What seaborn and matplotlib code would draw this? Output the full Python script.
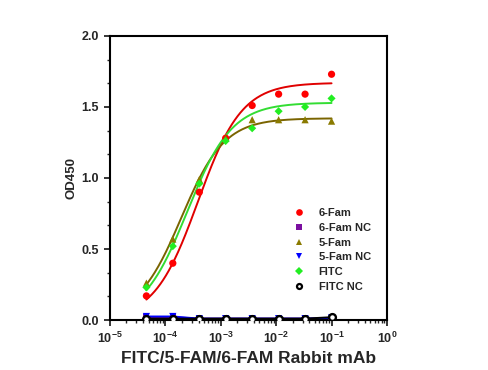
import numpy as np
import pandas as pd
import seaborn as sns
import matplotlib.pyplot as plt
from matplotlib.ticker import MultipleLocator, FixedLocator, LogLocator, NullFormatter

sns.set_style("ticks")
plt.rcParams['font.family'] = ['Liberation Sans', 'DejaVu Sans']
plt.rcParams['font.weight'] = 'bold'

# antibody concentration (3-fold dilutions)
conc = [4.57e-5, 1.37e-4, 4.12e-4, 1.23e-3, 3.7e-3, 1.11e-2, 3.33e-2, 1.0e-1]

fam6 = [0.17, 0.40, 0.90, 1.28, 1.51, 1.59, 1.59, 1.73]
fam6_nc = [0.02, 0.02, 0.01, 0.01, 0.01, 0.01, 0.01, 0.01]
fam5 = [0.26, 0.57, 0.99, 1.28, 1.41, 1.41, 1.41, 1.40]
fam5_nc = [0.025, 0.025, 0.01, 0.01, 0.01, 0.01, 0.01, 0.015]
fitc = [0.23, 0.52, 0.96, 1.26, 1.35, 1.47, 1.50, 1.56]
fitc_nc = [0.01, 0.01, 0.01, 0.01, 0.01, 0.01, 0.01, 0.02]

names = ["6-Fam", "6-Fam NC", "5-Fam", "5-Fam NC", "FITC", "FITC NC"]
values = [fam6, fam6_nc, fam5, fam5_nc, fitc, fitc_nc]

# 4PL fit parameters (bottom, top, EC50, hill)
fit_params = {
    "6-Fam": (0.0, 1.67, 3.9e-4, 1.1),
    "5-Fam": (0.02, 1.42, 1.95e-4, 1.12),
    "FITC": (0.0, 1.53, 2.5e-4, 1.08),
}

colors = {"6-Fam": "#ff0000", "6-Fam NC": "#7b0fa0", "5-Fam": "#8a7a00",
          "5-Fam NC": "#0000ff", "FITC": "#22ee22", "FITC NC": "#000000"}
line_colors = {"6-Fam": "#e00000", "6-Fam NC": "#7b0fa0", "5-Fam": "#7a6400",
               "5-Fam NC": "#0000ff", "FITC": "#33dd33", "FITC NC": "#000000"}
markers = {"6-Fam": "o", "6-Fam NC": "s", "5-Fam": "^", "5-Fam NC": "v",
           "FITC": "D", "FITC NC": "o"}
marker_sizes = {"6-Fam": 27, "6-Fam NC": 20, "5-Fam": 27, "5-Fam NC": 27,
                "FITC": 17, "FITC NC": 24}
legend_sizes = [4.8, 4.0, 4.8, 4.8, 3.8, 3.6]

points = pd.DataFrame({
    "conc": conc * len(names),
    "od": [v for vals in values for v in vals],
    "series": [n for n in names for _ in conc],
})

rows = []
xs = np.logspace(np.log10(conc[0]), np.log10(conc[-1]), 200)
for n, vals in zip(names, values):
    if n in fit_params:
        b, t, ec, h = fit_params[n]
        ys = b + (t - b) / (1 + (ec / xs) ** h)
        rows.append(pd.DataFrame({"conc": xs, "od": ys, "series": n}))
    else:
        rows.append(pd.DataFrame({"conc": conc, "od": vals, "series": n}))
curves = pd.concat(rows)

fig = plt.figure(figsize=(4.88, 3.70), dpi=100)
ax = fig.add_axes([0.225, 0.135, 0.568, 0.768])

sns.lineplot(data=curves, x="conc", y="od", hue="series", palette=line_colors,
             hue_order=names, linewidth=1.4, legend=False, ax=ax, sort=False)

sns.scatterplot(data=points, x="conc", y="od", hue="series", style="series",
                size="series", sizes=marker_sizes, size_order=names,
                palette=colors, markers=markers, hue_order=names, style_order=names,
                linewidth=0, ax=ax, zorder=3)

# open circle for FITC NC
nc = points[points.series == "FITC NC"]
ax.scatter(nc.conc, nc.od, s=24, facecolors="white", edgecolors="black",
           linewidths=1.7, zorder=4)

ax.set_xscale("log")
ax.set_xlim(1e-5, 1)
ax.set_ylim(0, 2.0)
ax.yaxis.set_major_locator(MultipleLocator(0.5))
ax.yaxis.set_minor_locator(FixedLocator([i / 6 for i in range(13)]))
ax.yaxis.set_major_formatter(plt.FormatStrFormatter("%.1f"))
ax.xaxis.set_major_locator(LogLocator(base=10, numticks=10))
ax.xaxis.set_minor_locator(LogLocator(base=10, subs=np.arange(2, 10), numticks=20))
ax.xaxis.set_minor_formatter(NullFormatter())

ax.tick_params(which="major", direction="out", length=4.5, width=1.3, labelsize=9)
ax.tick_params(which="minor", direction="out", length=2.5, width=1.0)
for sp in ax.spines.values():
    sp.set_linewidth(1.5)
    sp.set_color("black")

ax.set_xlabel("FITC/5-FAM/6-FAM Rabbit mAb", fontsize=12.5, fontweight="bold", labelpad=3)
ax.set_ylabel("OD450", fontsize=9.5, fontweight="bold", labelpad=3)

handles, labels = ax.get_legend_handles_labels()
leg = ax.legend(handles, labels, loc="lower left", bbox_to_anchor=(0.605, 0.065),
                frameon=False, fontsize=8, labelspacing=0.42, handletextpad=0.8)
for hd, ms in zip(leg.legend_handles, legend_sizes):
    hd.set_markersize(ms)
h_last = leg.legend_handles[-1]
h_last.set_markerfacecolor("white")
h_last.set_markeredgecolor("black")
h_last.set_markeredgewidth(1.6)

fig.savefig("out.png", dpi=100)
